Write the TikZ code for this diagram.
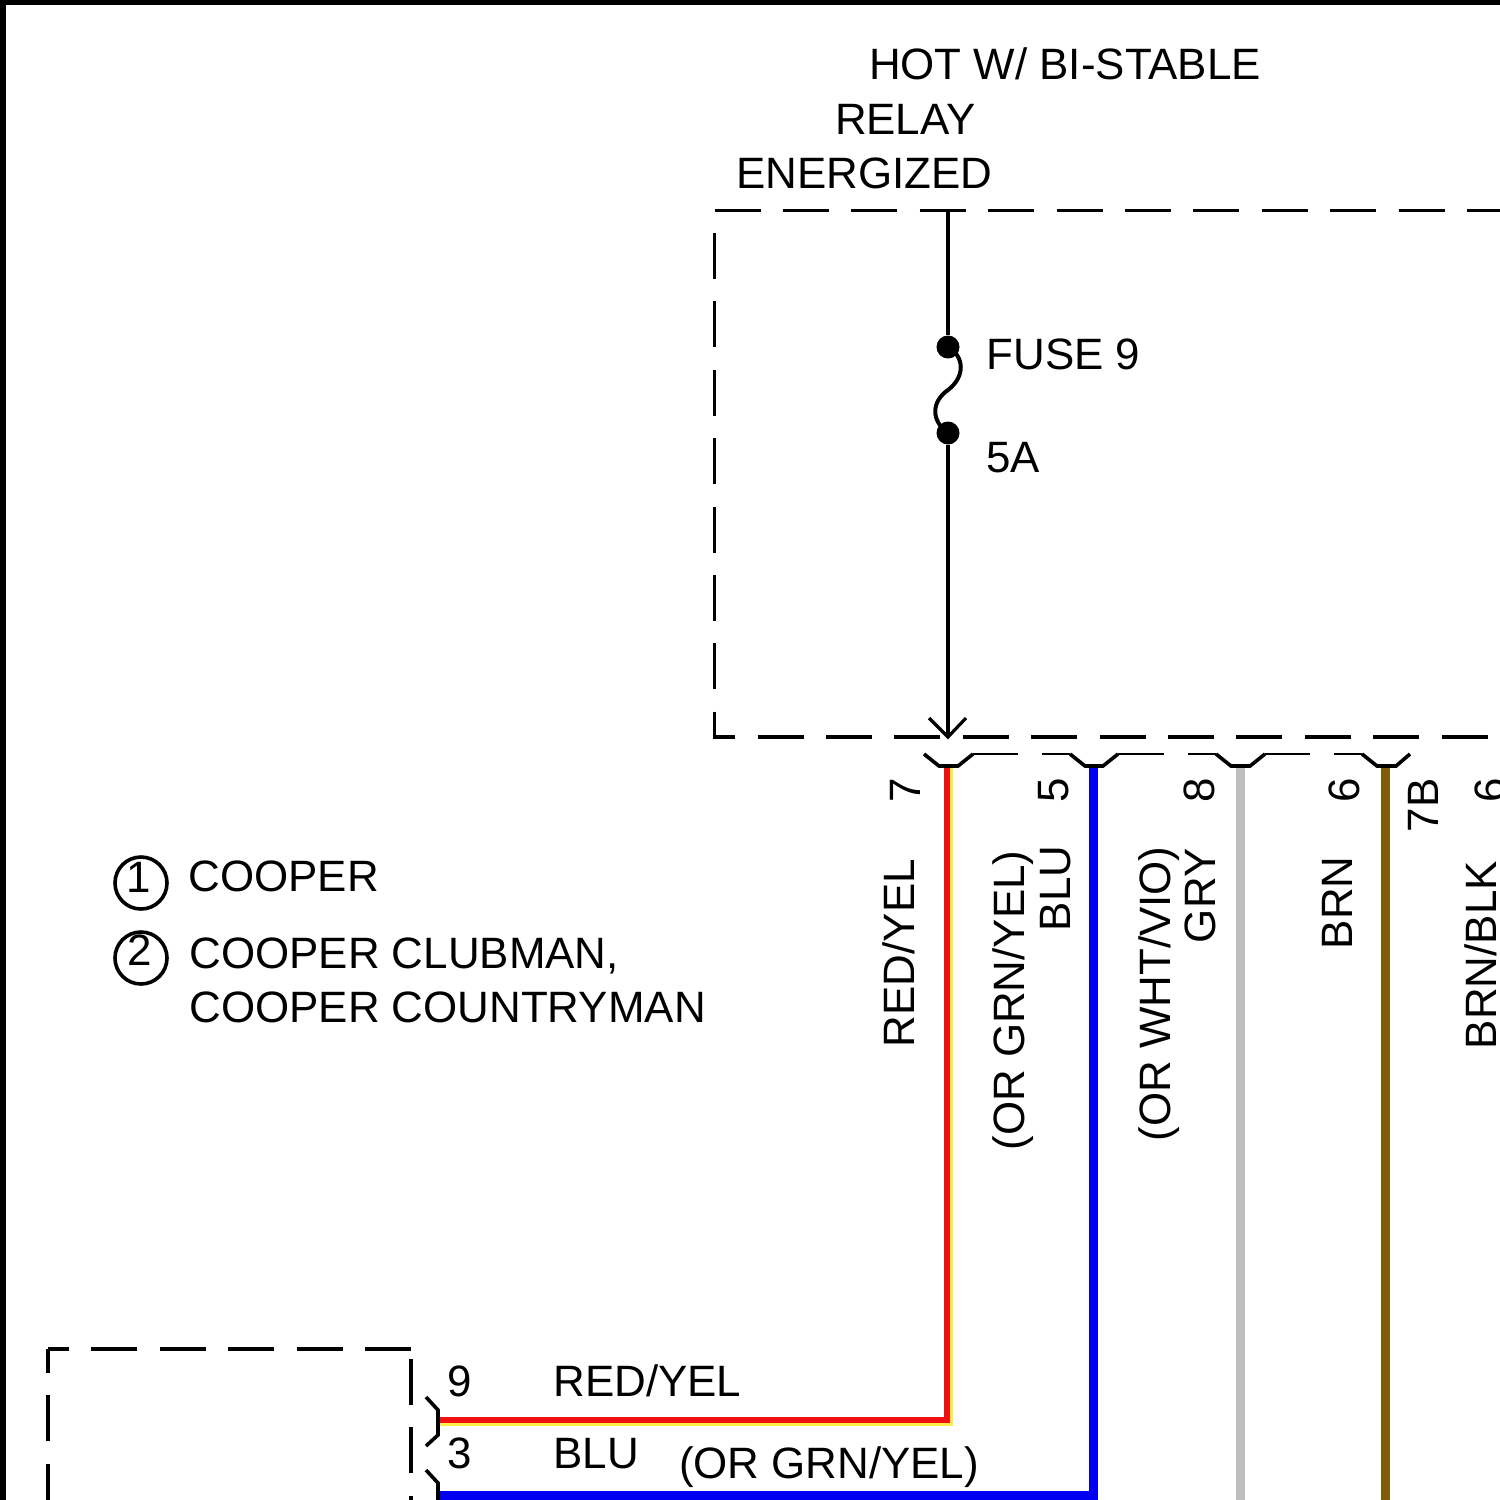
\documentclass[tikz,border=0pt]{standalone}
\usepackage{fontspec}
\setmainfont{Liberation Sans}
\definecolor{wblue}{RGB}{0,0,240}
\definecolor{wred}{RGB}{240,16,16}
\definecolor{wyel}{RGB}{255,236,70}
\definecolor{wgray}{RGB}{190,190,190}
\definecolor{wbrn}{RGB}{125,92,10}
\tikzset{
  lbl/.style={inner sep=0pt,outer sep=0pt,anchor=base west,font=\fontsize{43.9pt}{54pt}\selectfont},
  vlbl/.style={lbl,rotate=90},
  dashline/.style={line width=3.6pt,dash pattern=on 46pt off 22.4pt},
  ticks/.style={line width=3.6pt,line join=miter},
  thin flat/.style={line width=2.2pt},
  wire/.style={line width=9pt,line join=miter},
  edge stripe/.style={line width=4.5pt,color=wyel,line join=miter},
  solidline/.style={line width=3.2pt},
  dot/.style={circle,fill=black,inner sep=0pt,minimum size=23pt},
  ring/.style={circle,draw=black,line width=3.6pt,inner sep=0pt,minimum size=52pt},
}
\begin{document}
\begin{tikzpicture}[x=1pt,y=-1pt]
\useasboundingbox (0,0) rectangle (1500,1500);
\clip (0,0) rectangle (1500,1500);
\fill[white] (0,0) rectangle (1500,1500);
% frame
\fill[black] (0,0) rectangle (1500,5);
\fill[black] (0,0) rectangle (6,1500);
% relay box
\coordinate (boxTL) at (714.5,210.5);
\coordinate (boxTR) at (1510,210.5);
\coordinate (boxBL) at (714.5,737);
\coordinate (boxBR) at (1510,737);
\draw[dashline] (boxTL) -- (boxTR);
\draw[dashline,dash phase=46pt] (boxTL) -- (boxBL) -- (boxBR);
% lower-left box
\coordinate (lbTL) at (48,1349);
\coordinate (lbTR) at (411,1349);
\coordinate (lbBL) at (48,1510);
\coordinate (lbRS) at (411,1359);
\coordinate (lbRE) at (411,1510);
\draw[dashline,dash phase=25pt] (lbTL) -- (lbTR);
\draw[dashline,dash phase=22pt] (lbTL) -- (lbBL);
\draw[dashline] (lbRS) -- (lbRE);
% feed and fuse
\node[dot] (f1) at (948,347) {};
\node[dot] (f2) at (948,433) {};
\coordinate (feedTop) at (948,211);
\coordinate (tip) at (948,737);
\coordinate (tipL) at (929,718);
\coordinate (tipR) at (966,718);
\draw[solidline] (feedTop) -- (f1);
\draw[solidline] (f2) -- (tip);
\draw[solidline,line join=miter] (tipL) -- (tip) -- (tipR);
\draw[solidline,line width=4pt] (f1.center) .. controls (964,356) and (966,376) .. (948,390)
   .. controls (932,401) and (930,420) .. (f2.center);
% wires
\coordinate (rS) at (947,766);
\coordinate (rC) at (947,1420);
\coordinate (rE) at (439,1420);
\coordinate (yS) at (951.2,766);
\coordinate (yC) at (951.2,1423.5);
\coordinate (yE) at (439,1423.5);
\draw[edge stripe] (yS) -- (yC) -- (yE);
\draw[wire,line width=6.5pt,color=wred] (rS) -- (rC) -- (rE);
\coordinate (bS) at (1093.7,766);
\coordinate (bC) at (1093.7,1495);
\coordinate (bE) at (439,1495);
\draw[wire,color=wblue] (bS) -- (bC) -- (bE);
\coordinate (gS) at (1240,766);
\coordinate (gE) at (1240,1505);
\draw[wire,color=wgray] (gS) -- (gE);
\coordinate (nS) at (1385.7,766);
\coordinate (nE) at (1385.7,1505);
\draw[wire,color=wbrn] (nS) -- (nE);
% connector ticks along the relay box
\draw[ticks] (924,754) -- (939,766) -- (958,766) -- (973,754);
\draw[thin flat] (973,754) -- (1018,754);
\draw[thin flat] (1042,754) -- (1070,754);
\draw[ticks] (1070,754) -- (1085,766) -- (1103,766) -- (1118,754);
\draw[thin flat] (1118,754) -- (1164,754);
\draw[thin flat] (1188,754) -- (1216,754);
\draw[ticks] (1216,754) -- (1231,766) -- (1250,766) -- (1265,754);
\draw[thin flat] (1265,754) -- (1310,754);
\draw[thin flat] (1334,754) -- (1362,754);
\draw[ticks] (1362,754) -- (1377,766) -- (1396,766) -- (1410,754);
% connector ticks on lower-left box
\draw[ticks] (426,1397) -- (438,1410) -- (438,1435) -- (426,1446);
\draw[ticks] (426,1470) -- (438,1483) -- (438,1510);
% top labels
\node[lbl] (t1) at (869,79) {HOT W/ BI-STABLE};
\node[lbl] (t2) at (835,134) {RELAY};
\node[lbl] (t3) at (736.5,188) {ENERGIZED};
\node[lbl] (fuse) at (986.5,369) {FUSE 9};
\node[lbl] (amp) at (986.5,472) {5A};
% legend
\node[ring] (c1) at (141,883) {};
\node[ring] (c2) at (141,958) {};
\node[lbl] (n1) at (126,892) {1};
\node[lbl] (n2) at (127,965) {2};
\node[lbl] (l1) at (188.5,891) {COOPER};
\node[lbl] (l2) at (189.5,968) {COOPER CLUBMAN,};
\node[lbl] (l3) at (189.5,1022) {COOPER COUNTRYMAN};
% vertical labels
\node[vlbl] (p7) at (920,802) {7};
\node[vlbl] (p5) at (1068,802) {5};
\node[vlbl] (p8) at (1214,802) {8};
\node[vlbl] (p6) at (1359.5,802) {6};
\node[vlbl] (p7b) at (1438,832) {7B};
\node[vlbl] (p6b) at (1505.5,802) {6};
\node[vlbl] (w1) at (914.5,1047) {RED/YEL};
\node[vlbl] (w2a) at (1070,931) {BLU};
\node[vlbl] (w2b) at (1024.5,1150.5) {(OR GRN/YEL)};
\node[vlbl] (w3a) at (1215,943) {GRY};
\node[vlbl] (w3b) at (1170,1141.5) {(OR WHT/VIO)};
\node[vlbl] (w4) at (1352,949) {BRN};
\node[vlbl] (w5) at (1496,1049) {BRN/BLK};
% bottom labels
\node[lbl] (p9) at (447,1396) {9};
\node[lbl] (p3) at (447,1468) {3};
\node[lbl] (b1) at (553.5,1396) {RED/YEL};
\node[lbl] (b2) at (553.5,1468) {BLU};
\node[lbl] (b3) at (679,1478) {(OR GRN/YEL)};
\end{tikzpicture}
\end{document}
